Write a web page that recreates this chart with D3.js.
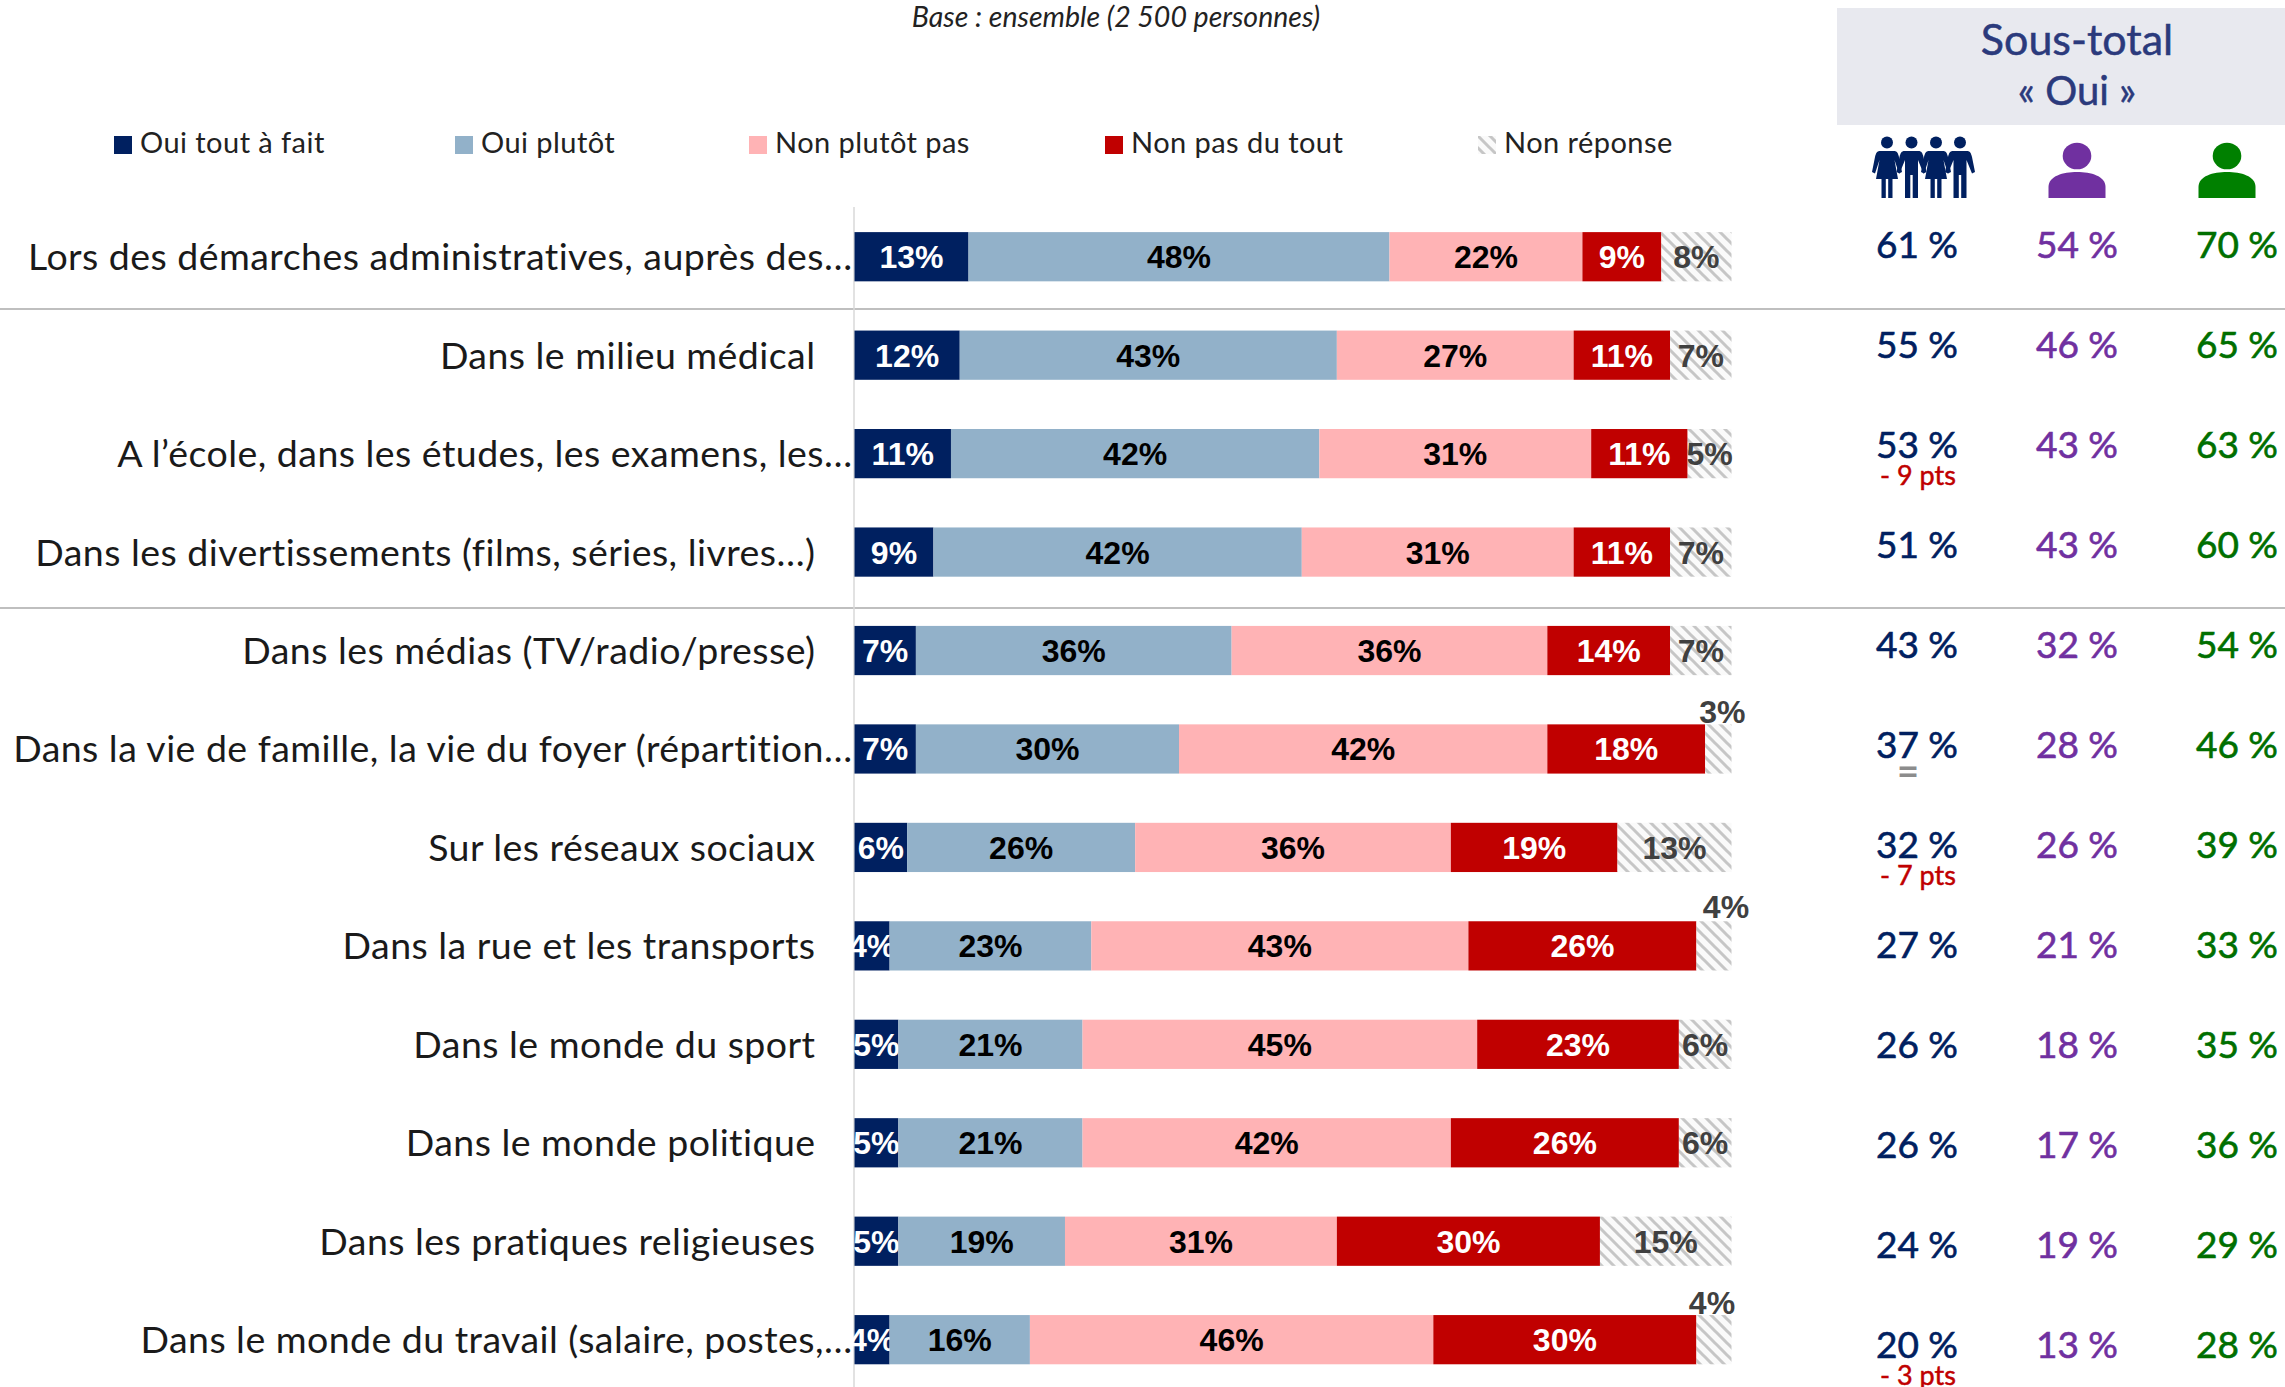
<!DOCTYPE html>
<html lang="fr">
<head>
<meta charset="utf-8">
<script src="https://cdn.jsdelivr.net/npm/d3@7/dist/d3.min.js"></script>
<style>
  body { margin: 0; background: #fff; }
  svg { display: block; }
</style>
</head>
<body>
<div id="chart"></div>
<script>
const categories = [
  'Lors des démarches administratives, auprès des…',
  'Dans le milieu médical',
  'A l’école, dans les études, les examens, les…',
  'Dans les divertissements (films, séries, livres…)',
  'Dans les médias (TV/radio/presse)',
  'Dans la vie de famille, la vie du foyer (répartition…',
  'Sur les réseaux sociaux',
  'Dans la rue et les transports',
  'Dans le monde du sport',
  'Dans le monde politique',
  'Dans les pratiques religieuses',
  'Dans le monde du travail (salaire, postes,…'
];
const seriesNames = ['Oui tout à fait', 'Oui plutôt', 'Non plutôt pas', 'Non pas du tout', 'Non réponse'];
const ouiToutAFait = [13, 12, 11, 9, 7, 7, 6, 4, 5, 5, 5, 4];
const ouiPlutot = [48, 43, 42, 42, 36, 30, 26, 23, 21, 21, 19, 16];
const nonPlutotPas = [22, 27, 31, 31, 36, 42, 36, 43, 45, 42, 31, 46];
const nonPasDuTout = [9, 11, 11, 11, 14, 18, 19, 26, 23, 26, 30, 30];
const nonReponse = [8, 7, 5, 7, 7, 3, 13, 4, 6, 6, 15, 4];
const totalEnsemble = [61, 55, 53, 51, 43, 37, 32, 27, 26, 26, 24, 20];
const totalFemmes = [54, 46, 43, 43, 32, 28, 26, 21, 18, 17, 19, 13];
const totalHommes = [70, 65, 63, 60, 54, 46, 39, 33, 35, 36, 29, 28];
const evolutions = ['', '', '- 9 pts', '', '', '=', '- 7 pts', '', '', '', '', '- 3 pts'];

const width = 2285, height = 1387;
const navy = '#002060', violet = '#7030a0', vert = '#006f00', rouge = '#c00000';
const serieColors = [navy, '#92b1c9', '#ffb3b5', rouge, 'url(#hatch)'];
const labelColors = ['#fff', '#000', '#000', '#fff', '#404040'];
const textFont = 'Lato, sans-serif';
const dataFont = '"Liberation Sans", Arial, sans-serif';

const svg = d3.select('#chart').append('svg')
  .attr('width', width)
  .attr('height', height);

// Hatch used for the "Non réponse" segments
const hatch = svg.append('defs').append('pattern')
  .attr('id', 'hatch')
  .attr('patternUnits', 'userSpaceOnUse')
  .attr('width', 12)
  .attr('height', 12);
hatch.append('rect').attr('width', 12).attr('height', 12).attr('fill', '#fafafa');
hatch.append('path')
  .attr('d', 'M-3,-3 L15,15 M-3,9 L3,15 M9,-3 L15,3')
  .attr('stroke', '#c6c6c6')
  .attr('stroke-width', 3);

// Scales
const x = d3.scaleLinear().domain([0, 100]).range([854.5, 1731.5]);
const y = d3.scaleBand().domain(categories)
  .range([207.5, 207.5 + 98.45 * 12])
  .paddingInner(0.5).paddingOuter(0.25);
// The sub-total column does not sit exactly on the bar rows
const yTotal = d3.scalePoint().domain(categories).range([258, 1358]);

// Sub-total header
svg.append('rect')
  .attr('x', 1837).attr('y', 8)
  .attr('width', width - 1837).attr('height', 117)
  .attr('fill', '#e8e9ef');
svg.selectAll('.header')
  .data(['Sous-total', '« Oui »'])
  .enter().append('text')
  .attr('x', 2077)
  .attr('y', function(d, i) { return 55 + i * 50; })
  .attr('text-anchor', 'middle')
  .attr('font-family', textFont)
  .attr('font-size', function(d, i) { return i === 0 ? 43 : 40; })
  .attr('fill', '#2b3a7c')
  .attr('stroke', '#2b3a7c')
  .attr('stroke-width', 0.5)
  .text(function(d) { return d; });

// Base line
svg.append('text')
  .attr('x', 1116).attr('y', 27)
  .attr('text-anchor', 'middle')
  .attr('font-family', textFont)
  .attr('font-style', 'italic')
  .attr('font-size', 28.5)
  .attr('fill', '#222')
  .text('Base : ensemble (2 500 personnes)');

// Legend
const legendX = d3.scaleOrdinal().domain(seriesNames).range([114, 455, 749, 1105, 1478]);
const legend = svg.selectAll('.legend')
  .data(seriesNames)
  .enter().append('g')
  .attr('transform', function(d) { return 'translate(' + legendX(d) + ',136)'; });
legend.append('rect')
  .attr('width', 18).attr('height', 18)
  .attr('fill', function(d, i) { return serieColors[i]; });
legend.append('text')
  .attr('x', 26).attr('y', 17)
  .attr('font-family', textFont)
  .attr('font-size', 29)
  .attr('letter-spacing', 0.45)
  .attr('fill', '#222')
  .text(function(d) { return d; });

// Separators and axis line
[309, 608].forEach(function(sepY) {
  svg.append('line')
    .attr('x1', 0).attr('x2', width)
    .attr('y1', sepY).attr('y2', sepY)
    .attr('stroke', '#bfbfbf')
    .attr('stroke-width', 2);
});
svg.append('line')
  .attr('x1', x(0) - 0.5).attr('x2', x(0) - 0.5)
  .attr('y1', 207).attr('y2', height)
  .attr('stroke', '#d9d9d9')
  .attr('stroke-width', 1.5);

// Category labels
svg.selectAll('.category')
  .data(categories)
  .enter().append('text')
  .attr('x', function(d) { return d.endsWith('…') ? x(0) - 2 : x(0) - 39; })
  .attr('y', function(d) { return y(d) + y.bandwidth() / 2 + 13.5; })
  .attr('text-anchor', 'end')
  .attr('font-family', textFont)
  .attr('font-size', 37.5)
  .attr('letter-spacing', 0.45)
  .attr('fill', '#1a1a1a')
  .text(function(d) { return d; });

// Stacked bars
const rows = categories.map(function(c, i) {
  return {
    category: c,
    values: [ouiToutAFait[i], ouiPlutot[i], nonPlutotPas[i], nonPasDuTout[i], nonReponse[i]]
  };
});
// Shift of the small labels lifted above their bar
const liftedNudge = {
  'Dans la vie de famille, la vie du foyer (répartition…': [4, -1],
  'Dans la rue et les transports': [12, -3],
  'Dans le monde du travail (salaire, postes,…': [-2, -1]
};

rows.forEach(function(row) {
  let start = 0;
  row.values.forEach(function(v, s) {
    svg.append('rect')
      .attr('x', x(start))
      .attr('y', y(row.category))
      .attr('width', x(start + v) - x(start))
      .attr('height', y.bandwidth())
      .attr('fill', serieColors[s]);

    const lifted = s === 4 && v <= 4;
    svg.append('text')
      .attr('x', x(start + v / 2) + (lifted ? liftedNudge[row.category][0] : 0))
      .attr('y', lifted ? y(row.category) + liftedNudge[row.category][1] : y(row.category) + y.bandwidth() / 2 + 11.5)
      .attr('text-anchor', 'middle')
      .attr('font-family', dataFont)
      .attr('font-weight', 'bold')
      .attr('font-size', 32)
      .attr('fill', labelColors[s])
      .text(v + '%');
    start += v;
  });
});

// Sub-total columns
const totalCols = [
  { values: totalEnsemble, color: navy, x: 1917 },
  { values: totalFemmes, color: violet, x: 2077 },
  { values: totalHommes, color: vert, x: 2237 }
];
totalCols.forEach(function(col) {
  svg.selectAll(null)
    .data(col.values)
    .enter().append('text')
    .attr('x', col.x)
    .attr('y', function(d, i) { return yTotal(categories[i]); })
    .attr('text-anchor', 'middle')
    .attr('font-family', textFont)
    .attr('font-size', 37)
    .attr('fill', col.color)
    .attr('stroke', col.color)
    .attr('stroke-width', 0.6)
    .text(function(d) { return d + ' %'; });
});

// Evolution notes under the first column
svg.selectAll('.evolution')
  .data(evolutions)
  .enter().append('text')
  .attr('x', function(d) { return d === '=' ? 1908 : 1918; })
  .attr('y', function(d, i) { return yTotal(categories[i]) + 27; })
  .attr('text-anchor', 'middle')
  .attr('font-family', textFont)
  .attr('font-weight', function(d) { return d === '=' ? 'bold' : 'normal'; })
  .attr('font-size', function(d) { return d === '=' ? 38 : 27; })
  .attr('fill', function(d) { return d === '=' ? '#8c8c8c' : rouge; })
  .attr('stroke', function(d) { return d === '=' ? 'none' : rouge; })
  .attr('stroke-width', 0.5)
  .text(function(d) { return d; });

// Person icons
function drawPerson(cx, color) {
  const g = svg.append('g').attr('transform', 'translate(' + cx + ',143)').attr('fill', color);
  g.append('ellipse').attr('cx', 0).attr('cy', 13).attr('rx', 14.3).attr('ry', 13.3);
  g.append('path').attr('d', 'M-28.5,55 V44 C-28.5,33 -14,29 0,29 C14,29 28.5,33 28.5,44 V55 Z');
}
drawPerson(2077, violet);
drawPerson(2227, '#008000');

function drawFigure(cx, dress) {
  const g = svg.append('g').attr('transform', 'translate(' + cx + ',137)').attr('fill', navy);
  g.append('circle').attr('cx', 0).attr('cy', 5.5).attr('r', 6);
  if (dress) {
    g.append('path').attr('d', 'M-7,14 H7 C10,14 11,16 12,20 L15,35 L12,36.5 L7.5,23 L11,42 H5.5 V61 H1.2 V42 H-1.2 V61 H-5.5 V42 H-11 L-7.5,23 L-12,36.5 L-15,35 L-12,20 C-11,16 -10,14 -7,14 Z');
  } else {
    g.append('path').attr('d', 'M-7,14 H7 C10,14 11,16 12,20 L15,35 L12,36.5 L6.5,23 V61 H1.2 V38 H-1.2 V61 H-6.5 V23 L-12,36.5 L-15,35 L-12,20 C-11,16 -10,14 -7,14 Z');
  }
}
[[1887, true], [1911.5, false], [1936, true], [1960, false]].forEach(function(f) {
  drawFigure(f[0], f[1]);
});
</script>
</body>
</html>
